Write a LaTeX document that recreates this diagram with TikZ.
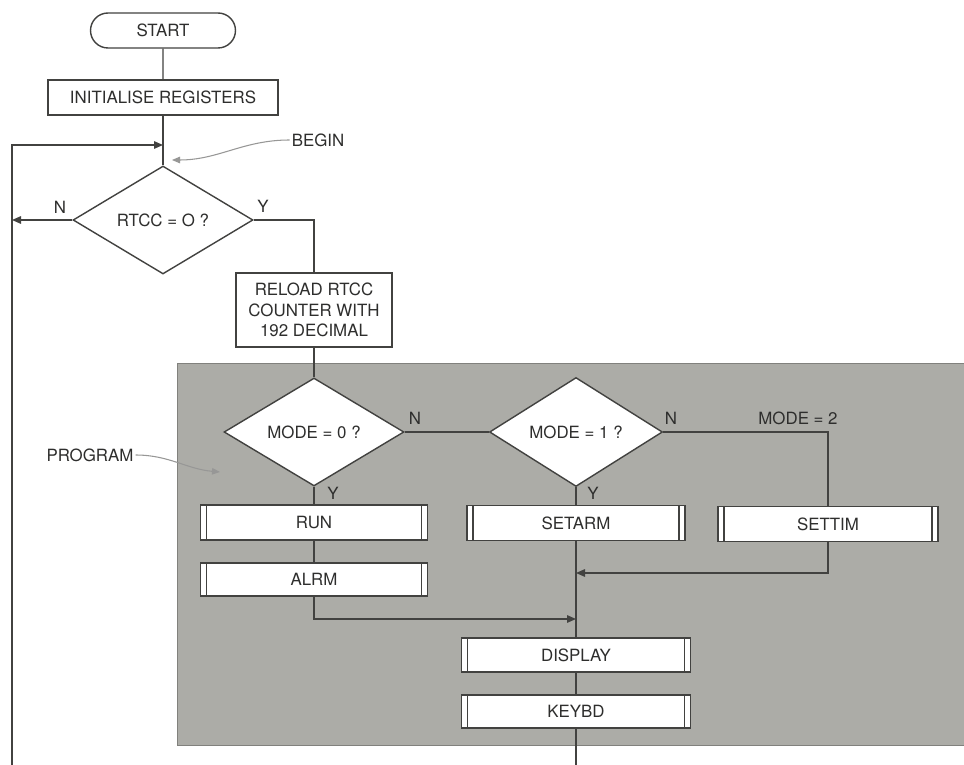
\documentclass[tikz,border=0pt]{standalone}
\usepackage{fontspec}
\setmainfont{TeX Gyre Heros}
\usetikzlibrary{arrows.meta,positioning,shapes.geometric,shapes.misc}
\definecolor{ink}{RGB}{66,66,64}
\definecolor{panel}{RGB}{172,172,167}
\tikzset{
  base/.style={draw=ink, line width=0.8pt, fill=white, inner sep=2pt,
              font=\fontsize{9.6}{11.5}\selectfont, text=ink!70!black, align=center},
  term/.style={base, rounded rectangle, minimum height=7mm},
  proc/.style={base, rectangle, minimum height=7mm},
  decide/.style={base, diamond, inner sep=0pt},
  subr/.style={proc, path picture={
      \draw[ink, line width=0.6pt]
        ([xshift=1.2mm]path picture bounding box.north west) -- ([xshift=1.2mm]path picture bounding box.south west)
        ([xshift=-1.2mm]path picture bounding box.north east) -- ([xshift=-1.2mm]path picture bounding box.south east);}},
  flow/.style={draw=ink, line width=0.8pt},
  arr/.style={flow, -{Triangle[length=1.8mm,width=1.5mm]}},
  note/.style={draw=ink!55, line width=0.6pt, -{Triangle[length=1.6mm,width=1.3mm]}},
  lbl/.style={font=\fontsize{9.6}{11.5}\selectfont, text=ink!70!black, inner sep=1pt},
}

\begin{document}
\begin{tikzpicture}[x=0.2mm,y=-0.2mm]
    \useasboundingbox (0,0) rectangle (964,765);
    \fill[white] (0,0) rectangle (964,765);
    \fill[panel] (177,363) rectangle (964,745);
    \draw[panel!75!black, line width=0.5pt] (964,363) -- (177,363) -- (177,745) -- (964,745);

    \node[term, minimum width=30.4mm] (start) at (163,30.5) {START};
    \node[proc, minimum width=46mm] (init) at (163,97.5) {INITIALISE REGISTERS};
    \node[decide, minimum width=36mm, minimum height=21.6mm] (rtcc) at (163,220) {RTCC = O ?};
    \node[proc, minimum width=31.2mm, minimum height=14.8mm] (reload) at (314,310)
      {RELOAD RTCC\\COUNTER WITH\\192 DECIMAL};
    \node[decide, minimum width=36mm, minimum height=21.6mm] (mode0) at (314,432) {MODE = 0 ?};
    \node[decide, minimum width=34.6mm, minimum height=21.8mm] (mode1) at (576,432) {MODE = 1 ?};
    \node[subr, minimum width=45.4mm] (run) at (314,522.5) {RUN};
    \node[subr, minimum width=45.4mm, minimum height=6.6mm] (alrm) at (314,579.5) {ALRM};
    \node[subr, minimum width=43.6mm] (setarm) at (576,523) {SETARM};
    \node[subr, minimum width=44mm] (settim) at (828,524) {SETTIM};
    \node[subr, minimum width=45.8mm, minimum height=6.8mm] (display) at (576,655) {DISPLAY};
    \node[subr, minimum width=45.8mm, minimum height=6.6mm] (keybd) at (576,711.5) {KEYBD};

    \node[lbl] (begin) at (318,140) {BEGIN};
    \node[lbl] (program) at (90,455) {PROGRAM};
    \node[lbl] (n0) at (60,207) {N};
    \node[lbl] (y0) at (263,206) {Y};
    \node[lbl] (n1) at (415,418) {N};
    \node[lbl] (y1) at (333,493) {Y};
    \node[lbl] (n2) at (671,418) {N};
    \node[lbl] (y2) at (593,493) {Y};
    \node[lbl] (mode2) at (798,418) {MODE = 2};

    \coordinate (join) at (163,145);
    \coordinate (looptop) at (12,145);
    \coordinate (loopbot) at (12,765);
    \coordinate (mergea) at (576,573);
    \coordinate (mergeb) at (576,619);
    \coordinate (exit) at (576,765);
    \coordinate (begintip) at (172,160);
    \coordinate (programtip) at (220,472);

    \draw[flow] (start) -- (init);
    \draw[flow] (init) -- (rtcc);
    \draw[arr] (loopbot) -- (looptop) -- (join);
    \draw[arr] (rtcc.west) -- (rtcc.west -| looptop);
    \draw[flow] (rtcc.east) -| (reload.north);
    \draw[flow] (reload.south) -- (mode0.north);
    \draw[flow] (mode0.east) -- (mode1.west);
    \draw[flow] (mode1.east) -| (settim.north);
    \draw[flow] (mode0.south) -- (run.north);
    \draw[flow] (run.south) -- (alrm.north);
    \draw[flow] (mode1.south) -- (setarm.north);
    \draw[flow] (setarm.south) -- (display.north);
    \draw[arr] (settim.south) |- (mergea);
    \draw[arr] (alrm.south) |- (mergeb);
    \draw[flow] (display.south) -- (keybd.north);
    \draw[flow] (keybd.south) -- (exit);

    \draw[note] (begin.west) to[out=180,in=0] (begintip);
    \draw[note] (program.east) to[out=0,in=175] (programtip);
\end{tikzpicture}
\end{document}
